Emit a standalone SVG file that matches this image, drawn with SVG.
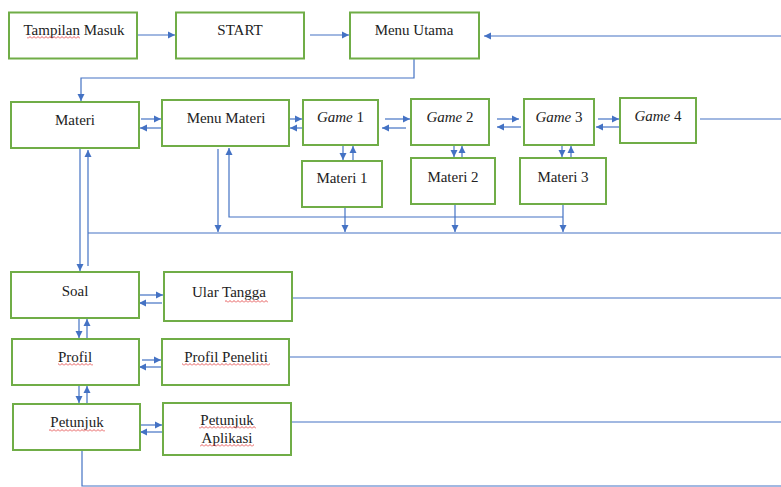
<svg xmlns="http://www.w3.org/2000/svg" width="781" height="487" viewBox="0 0 781 487">
<style>
.box{fill:#fff;stroke:#70AD47;stroke-width:2}
.t{font-family:"Liberation Serif","Times New Roman",serif;font-size:15px;fill:#222;text-anchor:middle}
.i{font-style:italic}
.c{fill:none;stroke:#4472C4;stroke-width:1.2}
.a{marker-end:url(#ah)}
</style>
<defs>
<marker id="ah" markerUnits="userSpaceOnUse" markerWidth="8" markerHeight="8" refX="7" refY="4" orient="auto">
<path d="M0,0.5 L7,4 L0,7.5 z" fill="#4472C4"/>
</marker>
<pattern id="wave" patternUnits="userSpaceOnUse" width="4" height="3">
<path d="M0,2.5 L2,0.5 L4,2.5" fill="none" stroke="#E03030" stroke-width="0.8"/>
</pattern>
</defs>
<rect width="781" height="487" fill="#fff"/>
<g id="connectors">
<path class="c a" d="M137,35 H175"/>
<path class="c a" d="M310,35 H349"/>
<path class="c a" d="M781,36 H484"/>
<path class="c a" d="M414,58 V78 H81 V101"/>
<path class="c a" d="M141,119 H161"/>
<path class="c a" d="M162,128 H140"/>
<path class="c a" d="M289,119 H302"/>
<path class="c a" d="M303,128 H290"/>
<path class="c a" d="M385,119 H410"/>
<path class="c a" d="M406,128 H382"/>
<path class="c a" d="M497,119 H519"/>
<path class="c a" d="M521,127 H497"/>
<path class="c a" d="M598,119 H619"/>
<path class="c a" d="M619,127 H596"/>
<path class="c" d="M700,119 H781"/>
<path class="c a" d="M343,145 V160"/>
<path class="c a" d="M353,161 V146"/>
<path class="c a" d="M454,145 V157"/>
<path class="c a" d="M462,158 V146"/>
<path class="c a" d="M562,145 V157"/>
<path class="c a" d="M571,158 V146"/>
<path class="c a" d="M345,207 V232"/>
<path class="c a" d="M455,204 V232"/>
<path class="c a" d="M563,204 V232"/>
<path class="c a" d="M218,149 V232"/>
<path class="c a" d="M563,217 H229 V148"/>
<path class="c" d="M88,233 H781"/>
<path class="c a" d="M80,148 V271"/>
<path class="c a" d="M88,266 V150"/>
<path class="c a" d="M140,295 H163"/>
<path class="c a" d="M162,303 H139"/>
<path class="c" d="M292,298 H781"/>
<path class="c a" d="M79,318 V338"/>
<path class="c a" d="M87,339 V319"/>
<path class="c a" d="M142,360 H161"/>
<path class="c a" d="M162,367 H139"/>
<path class="c" d="M290,357 H781"/>
<path class="c a" d="M79,385 V403"/>
<path class="c a" d="M87,404 V386"/>
<path class="c a" d="M141,425 H162"/>
<path class="c a" d="M162,432 H140"/>
<path class="c" d="M291,422 H781"/>
<path class="c" d="M82,450 V486 H781"/>
</g>
<g id="tampilan-masuk"><rect class="box" x="9" y="12.5" width="128" height="46"/><text class="t" x="74" y="35">Tampilan Masuk</text></g>
<g id="start"><rect class="box" x="176" y="12.5" width="128" height="46"/><text class="t" x="240" y="35">START</text></g>
<g id="menu-utama"><rect class="box" x="350" y="12.5" width="129" height="46"/><text class="t" x="414" y="35">Menu Utama</text></g>
<g id="materi"><rect class="box" x="11" y="102" width="128" height="46"/><text class="t" x="75" y="125">Materi</text></g>
<g id="menu-materi"><rect class="box" x="162" y="100" width="127" height="46"/><text class="t" x="226" y="123">Menu Materi</text></g>
<g id="game1"><rect class="box" x="303" y="100" width="75" height="45"/><text class="t" x="340.5" y="122"><tspan class="i">Game</tspan> 1</text></g>
<g id="game2"><rect class="box" x="411" y="99" width="78" height="46"/><text class="t" x="450" y="122"><tspan class="i">Game</tspan> 2</text></g>
<g id="game3"><rect class="box" x="524" y="99" width="70" height="46"/><text class="t" x="559" y="122"><tspan class="i">Game</tspan> 3</text></g>
<g id="game4"><rect class="box" x="620" y="98" width="76" height="45"/><text class="t" x="658" y="121"><tspan class="i">Game</tspan> 4</text></g>
<g id="materi1"><rect class="box" x="302" y="161" width="80" height="46"/><text class="t" x="342" y="183">Materi 1</text></g>
<g id="materi2"><rect class="box" x="411" y="158" width="84" height="46"/><text class="t" x="453" y="182">Materi 2</text></g>
<g id="materi3"><rect class="box" x="520" y="158" width="86" height="46"/><text class="t" x="563" y="182">Materi 3</text></g>
<g id="soal"><rect class="box" x="11" y="272" width="128" height="46"/><text class="t" x="75" y="296">Soal</text></g>
<g id="ular-tangga"><rect class="box" x="164" y="272" width="128" height="49"/><text class="t" x="229" y="297">Ular Tangga</text></g>
<g id="profil"><rect class="box" x="12" y="339" width="127" height="46"/><text class="t" x="75" y="362">Profil</text></g>
<g id="profil-peneliti"><rect class="box" x="162" y="339" width="127" height="46"/><text class="t" x="226" y="362">Profil Peneliti</text></g>
<g id="petunjuk"><rect class="box" x="13" y="404" width="127" height="46"/><text class="t" x="77" y="427">Petunjuk</text></g>
<g id="petunjuk-aplikasi"><rect class="box" x="163" y="403" width="128" height="52"/><text class="t" x="227" y="425">Petunjuk</text><text class="t" x="227" y="443">Aplikasi</text></g>
<g id="spellcheck-marks">
<rect x="27" y="36" width="53" height="3" fill="url(#wave)"/>
<rect x="225" y="300" width="43" height="3" fill="url(#wave)"/>
<rect x="58" y="363" width="35" height="3" fill="url(#wave)"/>
<rect x="182" y="363" width="88" height="3" fill="url(#wave)"/>
<rect x="49" y="429" width="56" height="3" fill="url(#wave)"/>
<rect x="199" y="426" width="57" height="3" fill="url(#wave)"/>
<rect x="200" y="444" width="54" height="3" fill="url(#wave)"/>
</g>
</svg>
